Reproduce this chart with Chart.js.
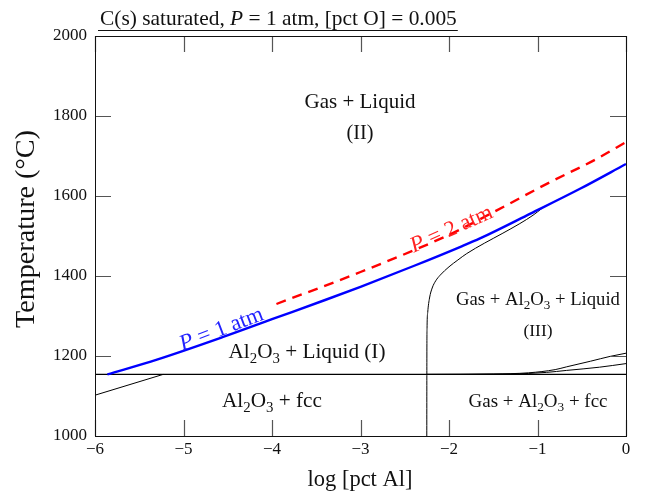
<!DOCTYPE html>
<html><head><meta charset="utf-8">
<script src="https://cdn.jsdelivr.net/npm/chart.js@4.4.0/dist/chart.umd.min.js"></script>
<style>html,body{margin:0;padding:0;background:#fff;}</style>
</head><body>
<canvas id="c" width="647" height="493"></canvas>
<script>
// ---- tick labels ----
const xTicks = [-6, -5, -4, -3, -2, -1, 0];
const yTicks = [1000, 1200, 1400, 1600, 1800, 2000];

// ---- P = 1 atm (blue) ----
const p1X = [-5.86, -5.3, -4.56, -4.0, -3.4, -3.0, -2.4, -1.87, -1.65, -1.08, -0.52, 0];
const p1T = [1154, 1191, 1247, 1292, 1340, 1373, 1425, 1473, 1494, 1556, 1618, 1680];

// ---- P = 2 atm (red dashed) ----
const p2X = [-3.95, -3.0, -2.0, -1.46, -0.89, -0.33, 0];
const p2T = [1330, 1410, 1503, 1564, 1631, 1693, 1735];

// ---- gas boundary (black) ----
const gasX = [-2.251, -2.25, -2.248, -2.24, -2.22, -2.19, -2.15, -2.1, -2.0, -1.9, -1.8, -1.6, -1.4, -1.2, -1.05, -0.95];
const gasT = [1000, 1200, 1270, 1310, 1345, 1370, 1388, 1402, 1423, 1440, 1456, 1482, 1506, 1531, 1552, 1569];

// ---- eutectic horizontal (black) ----
const eutX = [-6, 0];
const eutT = [1154, 1154];

// ---- fcc boundary (black, lower left) ----
const fccX = [-6, -5.23];
const fccT = [1102, 1154];

// ---- upper right curves (black) ----
const upX = [-2.25, -1.5, -1.1, -0.8, -0.67, -0.4, -0.18, 0];
const upT = [1154, 1155, 1158, 1166, 1173, 1187, 1199, 1207];
const loX = [-2.25, -1.3, -0.9, -0.67, -0.3, 0];
const loT = [1154, 1155, 1159, 1164, 1172, 1181];

const pts = (xs, ys) => xs.map((x, i) => ({x: x, y: ys[i]}));

const SERIF = '"Liberation Serif", "DejaVu Serif", serif';

function parseRich(s) {
  const segs = [];
  let it = false, buf = '';
  for (let i = 0; i < s.length; i++) {
    const c = s[i];
    if (c === '*') { if (buf) segs.push({t: buf, it: it}); buf = ''; it = !it; continue; }
    if (c === '_') { if (buf) segs.push({t: buf, it: it}); buf = ''; segs.push({t: s[i + 1], sub: true}); i++; continue; }
    buf += c;
  }
  if (buf) segs.push({t: buf, it: it});
  return segs;
}
function fontFor(seg, size) {
  const sz = seg.sub ? size * 0.7 : size;
  return (seg.it ? 'italic ' : '') + sz + 'px ' + SERIF;
}
function richWidth(ctx, segs, size) {
  let w = 0;
  segs.forEach(s => { ctx.font = fontFor(s, size); w += ctx.measureText(s.t).width; });
  return w;
}
function drawRich(ctx, text, x, y, targetW, color, angle, align) {
  const segs = parseRich(text);
  let size = 17;
  const w0 = richWidth(ctx, segs, size);
  size = size * targetW / w0;
  const w = richWidth(ctx, segs, size);
  ctx.save();
  ctx.translate(x, y);
  ctx.rotate(angle || 0);
  ctx.fillStyle = color;
  ctx.textBaseline = 'alphabetic';
  ctx.textAlign = 'left';
  let cx = align === 'left' ? 0 : -w / 2;
  const base = size * 0.33;
  segs.forEach(s => {
    ctx.font = fontFor(s, size);
    ctx.fillText(s.t, cx, base + (s.sub ? size * 0.22 : 0));
    cx += ctx.measureText(s.t).width;
  });
  ctx.restore();
  return {w: w, size: size};
}

const decor = {
  id: 'decor',
  afterDatasetsDraw(chart) {
    const ctx = chart.ctx;
    const a = chart.chartArea;
    const xs = chart.scales.x, ys = chart.scales.y;
    ctx.save();
    ctx.strokeStyle = '#555';
    ctx.lineWidth = 1.2;
    const TL = 16;
    ctx.beginPath();
    xTicks.forEach(v => {
      const px = Math.round(xs.getPixelForValue(v)) + 0.5;
      ctx.moveTo(px, a.bottom); ctx.lineTo(px, a.bottom - TL);
      ctx.moveTo(px, a.top); ctx.lineTo(px, a.top + TL);
    });
    yTicks.forEach(v => {
      const py = Math.round(ys.getPixelForValue(v)) + 0.5;
      ctx.moveTo(a.left, py); ctx.lineTo(a.left + TL, py);
      ctx.moveTo(a.right, py); ctx.lineTo(a.right - TL, py);
    });
    ctx.stroke();
    ctx.strokeStyle = '#111';
    ctx.lineWidth = 1;
    ctx.strokeRect(Math.round(a.left) + 0.5, Math.round(a.top) + 0.5,
                   Math.round(a.right - a.left), Math.round(a.bottom - a.top));
    ctx.restore();

    drawRich(ctx, 'Gas + Liquid', 360, 101, 111, '#111');
    drawRich(ctx, '(II)', 360, 132, 27, '#111');
    drawRich(ctx, 'Gas + Al_2O_3 + Liquid', 538, 299, 164, '#111');
    drawRich(ctx, '(III)', 538, 330, 29, '#111');
    drawRich(ctx, 'Al_2O_3 + Liquid (I)', 307, 351, 157, '#111');
    drawRich(ctx, 'Al_2O_3 + fcc', 272, 400, 100, '#111');
    drawRich(ctx, 'Gas + Al_2O_3 + fcc', 538, 401, 139, '#111');
    drawRich(ctx, '*P* = 1 atm', 221, 328, 88, '#2222ff', -21 * Math.PI / 180);
    drawRich(ctx, '*P* = 2 atm', 451, 228, 88, '#ff2222', -24 * Math.PI / 180);

    const t = drawRich(ctx, 'C(s) saturated, *P* = 1 atm, [pct O] = 0.005', 100, 18, 357, '#111', 0, 'left');
    ctx.save();
    ctx.strokeStyle = '#111'; ctx.lineWidth = 1.2;
    ctx.beginPath(); ctx.moveTo(98, 30.5); ctx.lineTo(100 + t.w + 1, 30.5); ctx.stroke();
    ctx.restore();

    drawRich(ctx, 'log [pct Al]', 360, 479, 105, '#111');
    drawRich(ctx, 'Temperature (°C)', 25, 229, 198, '#111', -Math.PI / 2);
  }
};

const lineDs = (label, data, color, width, dash) => ({
  label: label, data: data, showLine: true, borderColor: color, backgroundColor: color,
  borderWidth: width, borderDash: dash || [], pointRadius: 0, pointHoverRadius: 0,
  cubicInterpolationMode: 'monotone', fill: false
});

new Chart(document.getElementById('c'), {
  type: 'scatter',
  data: {
    datasets: [
      lineDs('P = 2 atm', pts(p2X, p2T), '#ff0000', 2.4, [10, 7]),
      lineDs('P = 1 atm', pts(p1X, p1T), '#0000ff', 2.4),
      lineDs('gas', pts(gasX, gasT), '#000', 1),
      lineDs('eutectic', pts(eutX, eutT), '#000', 1.2),
      lineDs('fcc', pts(fccX, fccT), '#000', 1),
      lineDs('upper', pts(upX, upT), '#000', 1),
      lineDs('lower', pts(loX, loT), '#000', 1)
    ]
  },
  options: {
    responsive: false,
    animation: false,
    devicePixelRatio: 1,
    layout: {padding: {left: 0, right: 21, top: 36, bottom: 0}},
    plugins: {legend: {display: false}, tooltip: {enabled: false}, title: {display: false}},
    scales: {
      x: {
        type: 'linear', min: -6, max: 0,
        afterBuildTicks: s => { s.ticks = xTicks.map(v => ({value: v})); },
        afterFit: s => { s.height = 57; },
        grid: {display: false, drawTicks: false},
        border: {display: false},
        ticks: {
          color: '#111', padding: 3, maxRotation: 0, autoSkip: false,
          font: {family: SERIF, size: 17},
          callback: v => (v < 0 ? '\u2212' + Math.abs(v) : String(v))
        }
      },
      y: {
        type: 'linear', min: 1000, max: 2000,
        afterBuildTicks: s => { s.ticks = yTicks.map(v => ({value: v})); },
        afterFit: s => { s.width = 95; },
        grid: {display: false, drawTicks: false},
        border: {display: false},
        ticks: {
          color: '#111', padding: 8, autoSkip: false,
          font: {family: SERIF, size: 17},
          callback: v => String(v)
        }
      }
    }
  },
  plugins: [decor]
});
</script>
</body></html>
